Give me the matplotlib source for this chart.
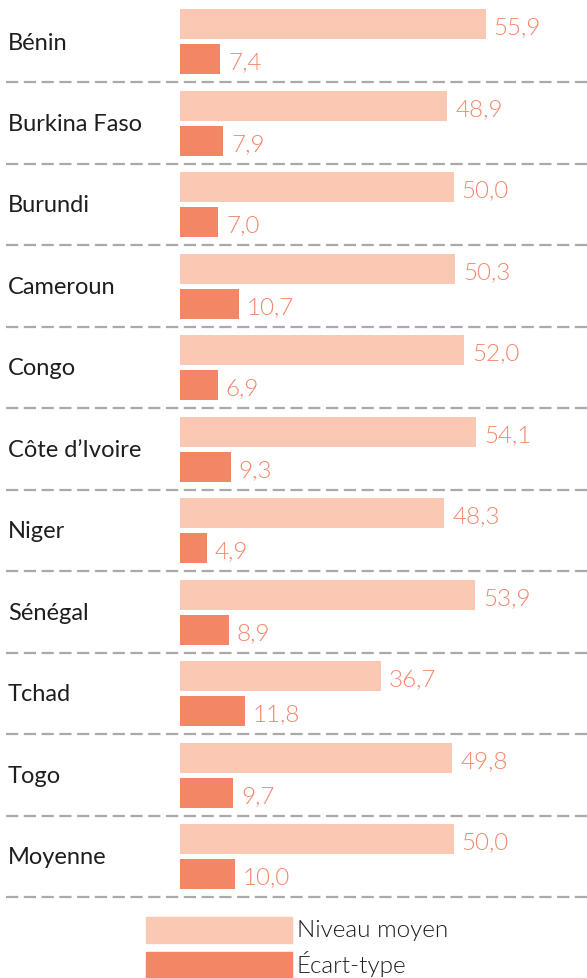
import matplotlib.pyplot as plt
from matplotlib.patches import Rectangle

# Niveau moyen et écart-type par pays
pays = ['Bénin', 'Burkina Faso', 'Burundi', 'Cameroun', 'Congo', "Côte d’Ivoire",
        'Niger', 'Sénégal', 'Tchad', 'Togo', 'Moyenne']
niveau_moyen = [55.9, 48.9, 50.0, 50.3, 52.0, 54.1, 48.3, 53.9, 36.7, 49.8, 50.0]
ecart_type = [7.4, 7.9, 7.0, 10.7, 6.9, 9.3, 4.9, 8.9, 11.8, 9.7, 10.0]

LIGHT = '#FAC8B3'
DARK = '#F38665'
TEXT_VAL = '#F3866A'
TEXT_DARK = '#1e1e1e'

W, H = 587, 979
X0 = 180          # pixel where bars start
PX_PER_UNIT = 5.47
ROW = 81.5
BAR_H = 30

plt.rcParams['font.family'] = ['Lato', 'DejaVu Sans']

fig = plt.figure(figsize=(W / 100, H / 100), dpi=100)
ax = fig.add_axes([0, 0, 1, 1])
xmin, xmax = -X0 / PX_PER_UNIT, (W - X0) / PX_PER_UNIT
ax.set_xlim(xmin, xmax)
ax.set_ylim(H, 0)
ax.axis('off')

gap = 8 / PX_PER_UNIT
for i, (p, m, s) in enumerate(zip(pays, niveau_moyen, ecart_type)):
    top = 10 + ROW * i
    ax.barh(top + BAR_H / 2, m, height=BAR_H, left=0, color=LIGHT)
    ax.barh(top + 35 + BAR_H / 2, s, height=BAR_H, left=0, color=DARK)
    ax.text(m + gap, top + BAR_H / 2 + 3, f'{m:.1f}'.replace('.', ','),
            color=TEXT_VAL, fontsize=17.5, fontweight=300, va='center', ha='left')
    ax.text(s + gap, top + 35 + BAR_H / 2 + 3, f'{s:.1f}'.replace('.', ','),
            color=TEXT_VAL, fontsize=17.5, fontweight=300, va='center', ha='left')
    ax.text(xmin + 8 / PX_PER_UNIT, top + 33, p,
            color=TEXT_DARK, fontsize=17, va='center', ha='left')
    # separateur pointillé sous chaque groupe
    ax.plot([xmin + 6 / PX_PER_UNIT, xmax], [top + 73, top + 73],
            color='#aaaaaa', lw=1.6, dashes=(5.5, 2.5))

# légende
for j, (lab, col) in enumerate([('Niveau moyen', LIGHT), ('Écart-type', DARK)]):
    y_top = 918 + 35 * j
    fig.patches.append(Rectangle((146 / W, 1 - (y_top + 26) / H), 146 / W, 26 / H,
                                 transform=fig.transFigure, color=col))
    fig.text(297 / W, 1 - (y_top + 13 - 2 * j) / H, lab, color=TEXT_DARK, fontsize=17.5,
             fontweight=300, va='center', ha='left')

fig.savefig('out.png', dpi=100)
